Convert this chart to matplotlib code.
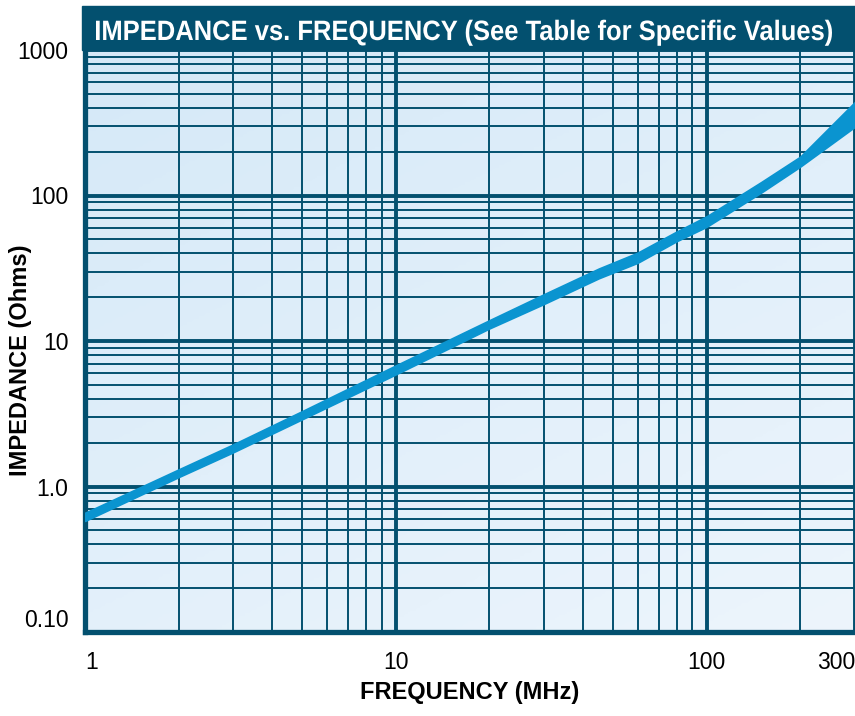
import numpy as np
import matplotlib.pyplot as plt
from matplotlib.patches import Rectangle, PathPatch
from matplotlib.textpath import TextPath
from matplotlib.font_manager import FontProperties
from matplotlib.transforms import Affine2D, IdentityTransform
from matplotlib.colors import LinearSegmentedColormap

# impedance band (MHz, Ohms)
freq = [1, 2, 3, 5, 10, 20, 30, 45, 60, 80, 100, 150, 200, 300]
z_low = [0.58, 1.16, 1.72, 2.9, 5.9, 12.2, 18.0, 27.0, 34.5, 48.5, 61, 105, 158, 297]
z_high = [0.66, 1.31, 1.95, 3.3, 6.8, 13.9, 21.0, 31.5, 40.5, 56.5, 72, 124, 185, 440]

x_ticks = [1, 10, 100, 300]
x_labels = ['1', '10', '100', '300']
y_ticks = [0.1, 1, 10, 100, 1000]
y_labels = ['0.10', '1.0', '10', '100', '1000']

title = 'IMPEDANCE vs. FREQUENCY (See Table for Specific Values)'

dark = '#03506f'
curve = '#0a94d0'

plt.rcParams['font.family'] = ['Liberation Sans', 'DejaVu Sans']

fig = plt.figure(figsize=(8.55, 7.16), dpi=100)
ax = fig.add_axes([85 / 855, 1 - 632 / 716, 770 / 855, 582 / 716])
ax.set_xscale('log')
ax.set_yscale('log')

# light blue background gradient
gx, gy = np.meshgrid(np.linspace(0, 1, 200), np.linspace(0, 1, 200))
grad = 0.6 * gy + 0.4 * (1 - gx)
bg = LinearSegmentedColormap.from_list('bg', ['#edf5fc', '#d5e9f8'])
ax.imshow(grad, extent=[0, 1, 0, 1], transform=ax.transAxes, aspect='auto',
          cmap=bg, zorder=0, origin='lower')

ax.set_xlim(1, 300)
ax.set_ylim(0.1, 1000)

ax.set_axisbelow(True)
ax.grid(True, which='major', color=dark, lw=2.8)
ax.grid(True, which='minor', color=dark, lw=1.4)

ax.fill_between(freq, z_low, z_high, color=curve, lw=1.2, ec=curve, zorder=3)

ax.set_xticks(x_ticks)
ax.set_xticklabels(x_labels)
ax.set_yticks(y_ticks)
ax.set_yticklabels(y_labels)
ax.tick_params(which='both', length=0, labelsize=16.5)
ax.tick_params(axis='x', pad=14)
ax.tick_params(axis='y', pad=12)
xl = ax.get_xticklabels()
xl[0].set_ha('left')
xl[-1].set_ha('right')
yl = ax.get_yticklabels()
yl[0].set_va('bottom')

for s in ['top', 'right']:
    ax.spines[s].set_visible(False)
for s in ['left', 'bottom']:
    ax.spines[s].set_color(dark)
    ax.spines[s].set_linewidth(3.8)

ax.set_xlabel('FREQUENCY (MHz)', fontsize=17, fontweight='bold', labelpad=5)
fig.text(21 / 855, 1 - 360 / 716, 'IMPEDANCE (Ohms)', fontsize=17,
         fontweight='bold', rotation=90, ha='center', va='center')

# title band
fig.add_artist(Rectangle((82 / 855, 1 - 50 / 716), 773 / 855, 44 / 716,
                         transform=fig.transFigure, color=dark, zorder=5))

# condensed bold title: squeeze the glyph outlines horizontally
tp = TextPath((0, 0), title, size=28,
              prop=FontProperties(family='Liberation Sans', weight='bold'))
bb = tp.get_extents()
sx = 736 / bb.width
H = 716
tr = Affine2D().translate(-bb.x0, 0).scale(sx, 1).translate(96, H - 40)
fig.add_artist(PathPatch(tr.transform_path(tp), transform=IdentityTransform(),
                         fc='white', ec='none', zorder=6))

fig.savefig('out.png', dpi=100)
